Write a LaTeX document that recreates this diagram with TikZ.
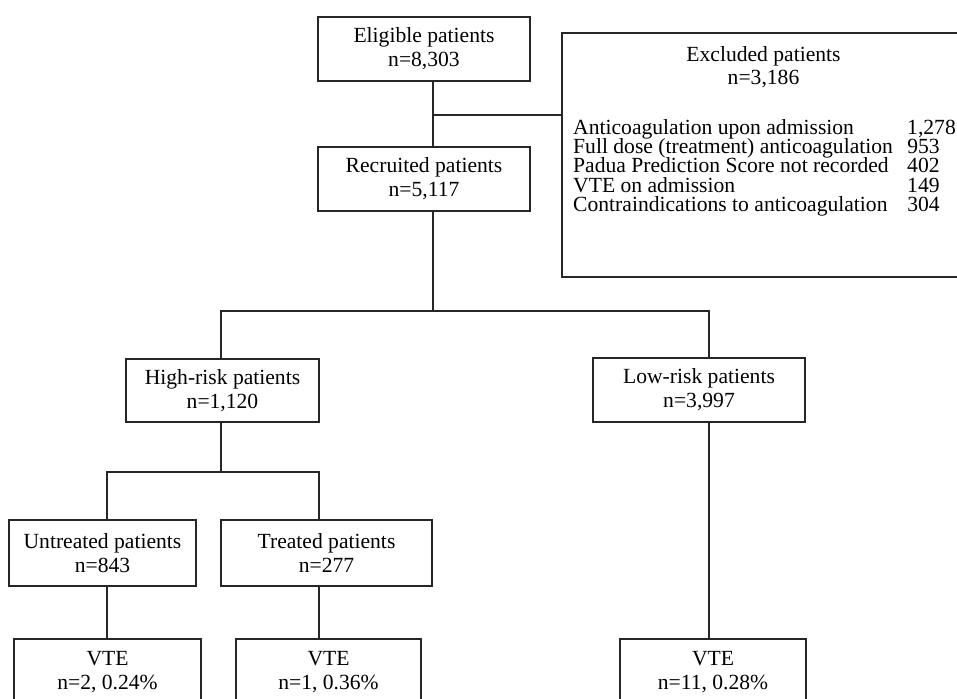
\documentclass[tikz,border=0pt]{standalone}
\usepackage{fontspec}
\setmainfont{Liberation Serif}
\newcommand{\xrow}[2]{\makebox[334pt][l]{#1}#2}
\begin{document}
\begin{tikzpicture}[x=1pt,y=-1pt,
  box/.style={draw=black!85, line width=1.1pt, rectangle, inner sep=0pt, align=center,
    font=\fontsize{21.6}{24}\selectfont},
  link/.style={draw=black!85, line width=1.1pt},
  listtxt/.style={inner sep=0pt, anchor=north west, align=left,
    font={\fontsize{21.6}{19.2}\selectfont\lineskiplimit=-100pt\lineskip=0pt}},
  ctxt/.style={inner sep=0pt, anchor=base, font=\fontsize{21.6}{24}\selectfont}]
\useasboundingbox (0,0) rectangle (957,698);
\clip (0,0) rectangle (957,698);
\fill[white] (0,0) rectangle (957,698);

% boxes
\node[box, minimum width=212pt, minimum height=64pt] (elig) at (424,49) {Eligible patients\\n=8,303};
\node[box, minimum width=212pt, minimum height=64pt] (recr) at (424,179) {Recruited patients\\n=5,117};
\node[box, minimum width=408pt, minimum height=244pt] (excl) at (766,155) {};
\node[box, minimum width=193pt, minimum height=63pt] (high) at (222.5,390.5) {High-risk patients\\n=1,120};
\node[box, minimum width=212pt, minimum height=64pt] (low) at (699,390) {Low-risk patients\\n=3,997};
\node[box, minimum width=187pt, minimum height=66pt] (untr) at (102.5,553) {Untreated patients\\n=843};
\node[box, minimum width=211pt, minimum height=66pt] (trt) at (326.5,553) {Treated patients\\n=277};
\node[box, minimum width=187pt, minimum height=66pt] (vte1) at (107.5,672) {VTE\\n=2, 0.24\%};
\node[box, minimum width=185pt, minimum height=66pt] (vte2) at (328.5,672) {VTE\\n=1, 0.36\%};
\node[box, minimum width=186pt, minimum height=66pt] (vte3) at (713,672) {VTE\\n=11, 0.28\%};

% excluded text
\node[ctxt] (exh) at (763.5,62) {Excluded patients};
\node[ctxt] (exn) at (763.5,85) {n=3,186};
\node[listtxt] (xlist) at (573,119.3) {%
\xrow{Anticoagulation upon admission}{1,278}\\
\xrow{Full dose (treatment) anticoagulation}{953}\\
\xrow{Padua Prediction Score not recorded}{402}\\
\xrow{VTE on admission}{149}\\
\xrow{Contraindications to anticoagulation}{304}};

% connectors
\coordinate (c1) at (433,115);
\draw[link] (elig.south -| c1) -- (recr.north -| c1);
\draw[link] (c1) -- (c1 -| excl.west);

\coordinate (b1) at (433,311);
\coordinate (hx) at (221,311);
\coordinate (lx) at (709,311);
\draw[link] (recr.south -| b1) -- (b1);
\draw[link] (high.north -| hx) -- (hx) -- (lx) -- (low.north -| lx);

\coordinate (b2) at (221,472);
\coordinate (ux) at (107,472);
\coordinate (tx) at (319,472);
\draw[link] (high.south -| b2) -- (b2);
\draw[link] (untr.north -| ux) -- (ux) -- (tx) -- (trt.north -| tx);

\draw[link] (untr.south -| ux) -- (vte1.north -| ux);
\draw[link] (trt.south -| tx) -- (vte2.north -| tx);
\draw[link] (low.south -| lx) -- (vte3.north -| lx);
\end{tikzpicture}
\end{document}
